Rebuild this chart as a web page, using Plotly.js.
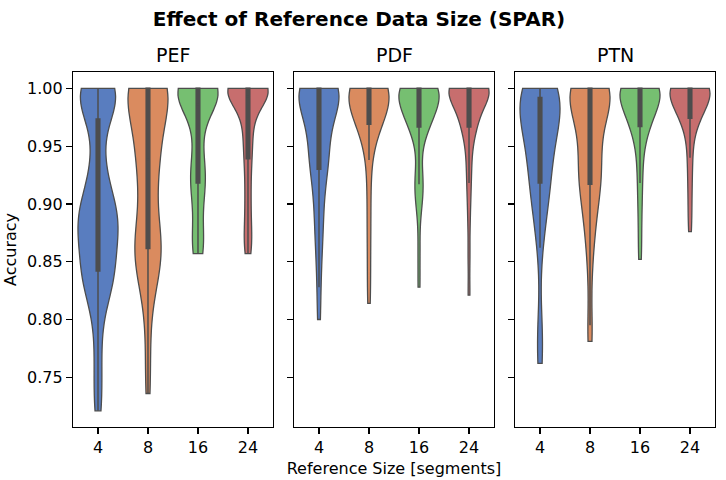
<!DOCTYPE html>
<html>
<head>
<meta charset="utf-8">
<script src="https://cdn.plot.ly/plotly-3.0.1.min.js"></script>
<style>
  html, body { margin: 0; padding: 0; background: #fff; }
</style>
</head>
<body>
<div id="chart" style="width:726px;height:480px;"></div>
<script>
// reference sizes (x categories) and the three metrics (one panel each)
const sizes = ['4', '8', '16', '24']
const metrics = ['PEF', 'PDF', 'PTN']
const palette = ['#597dbf', '#da8b5f', '#76bf71', '#c76e6e']

// accuracy samples
const pef4 = [1, 1, 1, 1, 1, 1, 0.993, 0.988, 0.982, 0.975, 0.972, 0.95, 0.935, 0.925, 0.915, 0.908, 0.902, 0.897, 0.893, 0.89,
    0.887, 0.883, 0.879, 0.875, 0.871, 0.866, 0.861, 0.856, 0.85, 0.844, 0.84, 0.836, 0.832, 0.826, 0.82, 0.81, 0.79, 0.765, 0.742, 0.721]
const pef8 = [1, 1, 1, 1, 1, 1, 1, 1, 1, 1, 1, 0.995, 0.988, 0.98, 0.972, 0.965, 0.958, 0.952, 0.946, 0.941,
    0.936, 0.93, 0.922, 0.912, 0.9, 0.888, 0.879, 0.872, 0.867, 0.863, 0.86, 0.857, 0.853, 0.848, 0.842, 0.835, 0.825, 0.8, 0.765, 0.736]
const pef16 = [1, 1, 1, 1, 1, 1, 1, 1, 1, 1, 1, 1, 1, 1, 0.998, 0.996, 0.994, 0.992, 0.99, 0.988,
    0.984, 0.978, 0.97, 0.96, 0.948, 0.938, 0.932, 0.928, 0.924, 0.92, 0.916, 0.912, 0.905, 0.895, 0.882, 0.872, 0.866, 0.862, 0.859, 0.857]
const pef24 = [1, 1, 1, 1, 1, 1, 1, 1, 1, 1, 1, 1, 1, 1, 1, 1, 1, 1, 0.997, 0.994,
    0.992, 0.988, 0.984, 0.979, 0.974, 0.968, 0.962, 0.955, 0.948, 0.943, 0.935, 0.925, 0.915, 0.905, 0.895, 0.885, 0.876, 0.868, 0.862, 0.857]

const pdf4 = [1, 1, 1, 1, 1, 1, 1, 1, 1, 1, 1, 1, 1, 0.997, 0.993, 0.99, 0.986, 0.982, 0.979, 0.976,
    0.974, 0.968, 0.962, 0.956, 0.951, 0.946, 0.942, 0.938, 0.935, 0.932, 0.928, 0.918, 0.908, 0.898, 0.888, 0.877, 0.866, 0.85, 0.828, 0.8]
const pdf8 = [1, 1, 1, 1, 1, 1, 1, 1, 1, 1, 1, 1, 1, 1, 1, 1, 0.998, 0.996, 0.994, 0.992,
    0.989, 0.986, 0.983, 0.98, 0.978, 0.976, 0.974, 0.973, 0.972, 0.971, 0.967, 0.96, 0.95, 0.938, 0.92, 0.9, 0.88, 0.86, 0.835, 0.814]
const pdf16 = [1, 1, 1, 1, 1, 1, 1, 1, 1, 1, 1, 1, 1, 1, 0.998, 0.996, 0.994, 0.992, 0.99, 0.988,
    0.986, 0.983, 0.98, 0.977, 0.974, 0.972, 0.971, 0.97, 0.969, 0.969, 0.964, 0.952, 0.93, 0.922, 0.917, 0.912, 0.906, 0.895, 0.86, 0.828]
const pdf24 = [1, 1, 1, 1, 1, 1, 1, 1, 1, 1, 1, 1, 1, 1, 1, 1, 1, 1, 1, 1,
    0.994, 0.99, 0.986, 0.982, 0.979, 0.976, 0.974, 0.972, 0.97, 0.968, 0.965, 0.958, 0.95, 0.94, 0.93, 0.918, 0.905, 0.885, 0.855, 0.821]

const ptn4 = [1, 1, 1, 1, 1, 1, 1, 1, 0.997, 0.994, 0.99, 0.987, 0.985, 0.983, 0.981, 0.979, 0.977, 0.975, 0.972, 0.969,
    0.966, 0.96, 0.955, 0.95, 0.945, 0.94, 0.935, 0.93, 0.925, 0.92, 0.916, 0.911, 0.905, 0.898, 0.89, 0.878, 0.862, 0.795, 0.778, 0.762]
const ptn8 = [1, 1, 1, 1, 1, 1, 1, 1, 1, 1, 1, 1, 0.997, 0.993, 0.988, 0.984, 0.98, 0.976, 0.972, 0.968,
    0.962, 0.956, 0.95, 0.944, 0.938, 0.933, 0.928, 0.924, 0.921, 0.919, 0.915, 0.908, 0.9, 0.892, 0.883, 0.873, 0.86, 0.835, 0.795, 0.781]
const ptn16 = [1, 1, 1, 1, 1, 1, 1, 1, 1, 1, 1, 1, 1, 1, 1, 1, 0.998, 0.996, 0.994, 0.992,
    0.988, 0.985, 0.982, 0.979, 0.977, 0.975, 0.973, 0.971, 0.97, 0.969, 0.965, 0.958, 0.95, 0.94, 0.93, 0.918, 0.905, 0.89, 0.87, 0.852]
const ptn24 = [1, 1, 1, 1, 1, 1, 1, 1, 1, 1, 1, 1, 1, 1, 1, 1, 1, 1, 1, 1,
    0.99, 0.987, 0.985, 0.983, 0.981, 0.98, 0.979, 0.978, 0.977, 0.976, 0.972, 0.966, 0.958, 0.95, 0.94, 0.93, 0.918, 0.905, 0.89, 0.876]

// kde bandwidth per violin
const pefBw = [0.02, 0.026, 0.018, 0.014]
const pdfBw = [0.02, 0.021, 0.016, 0.014]
const ptnBw = [0.026, 0.022, 0.016, 0.014]

const groups = [[pef4, pef8, pef16, pef24], [pdf4, pdf8, pdf16, pdf24], [ptn4, ptn8, ptn16, ptn24]]
const bws = [pefBw, pdfBw, ptnBw]

const font = 'DejaVu Sans, Liberation Sans, sans-serif'
const edge = '#4d4d4d'

let data = []
groups.forEach((g, p) => {
    g.forEach((vals, i) => {
        data.push({
            type: 'violin',
            x: vals.map(() => sizes[i]),
            y: vals,
            xaxis: p ? 'x' + (p + 1) : 'x',
            yaxis: p ? 'y' + (p + 1) : 'y',
            name: metrics[p] + ' ' + sizes[i],
            width: 0.8,
            scalemode: 'width',
            spanmode: 'hard',
            bandwidth: bws[p][i],
            points: false,
            fillcolor: palette[i],
            opacity: 1,
            line: { color: edge, width: 1.3 },
            box: { visible: true, width: 0.09, fillcolor: edge, line: { color: edge, width: 1.5 } },
            meanline: { visible: false },
            showlegend: false,
            hoveron: 'violins',
        })
    })
})

const domains = [[0, 0.3115], [0.3442, 0.6558], [0.6885, 1]]
const yRange = [0.707, 1.0141]

const axisStyle = {
    showline: true, mirror: true, linecolor: '#000', linewidth: 1.2,
    ticks: 'outside', ticklen: 6, tickwidth: 1.2, tickcolor: '#000',
    showgrid: false, zeroline: false,
    tickfont: { family: font, size: 16, color: '#000' },
}

let layout = {
    width: 726, height: 480,
    margin: { l: 73, r: 11, t: 72, b: 53 },
    paper_bgcolor: '#fff', plot_bgcolor: '#fff',
    showlegend: false,
    title: {
        text: '<b>Effect of Reference Data Size (SPAR)</b>',
        font: { family: font, size: 20, color: '#000' },
        x: 0.4945, xref: 'container', xanchor: 'center',
        y: 0.96, yref: 'container', yanchor: 'middle',
    },
    annotations: metrics.map((m, p) => ({
        text: m, xref: 'paper', yref: 'paper',
        x: (domains[p][0] + domains[p][1]) / 2, y: 1.049,
        xanchor: 'center', yanchor: 'middle', showarrow: false,
        font: { family: font, size: 19, color: '#000' },
    })),
}

metrics.forEach((m, p) => {
    const xa = p ? 'xaxis' + (p + 1) : 'xaxis'
    const ya = p ? 'yaxis' + (p + 1) : 'yaxis'
    layout[xa] = Object.assign({}, axisStyle, {
        domain: domains[p], anchor: p ? 'y' + (p + 1) : 'y',
        type: 'category', categoryorder: 'array', categoryarray: sizes,
        range: [-0.5, 3.5], fixedrange: true,
    })
    layout[ya] = Object.assign({}, axisStyle, {
        anchor: p ? 'x' + (p + 1) : 'x',
        range: yRange, tickvals: [0.75, 0.8, 0.85, 0.9, 0.95, 1.0], tickformat: '.2f',
        showticklabels: p === 0,
    })
})
layout.xaxis2.title = { text: 'Reference Size [segments]', font: { family: font, size: 16, color: '#000' }, standoff: 6 }
layout.yaxis.title = { text: 'Accuracy', font: { family: font, size: 16, color: '#000' }, standoff: 6 }

Plotly.newPlot('chart', data, layout, { staticPlot: true })
</script>
</body>
</html>
